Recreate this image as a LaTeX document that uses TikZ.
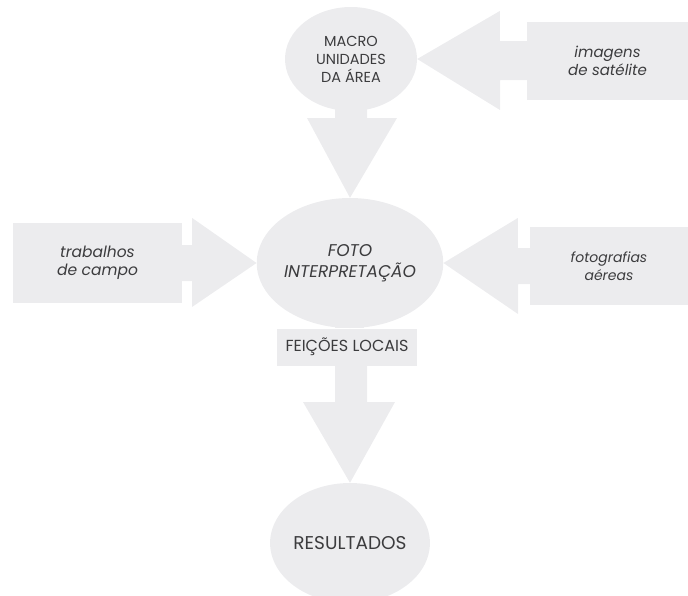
\documentclass[tikz,border=0pt]{standalone}
\usepackage{fontspec}
\setmainfont{Poppins}
\usetikzlibrary{shapes.geometric,backgrounds,calc}
\definecolor{fillc}{RGB}{236,236,238}
\definecolor{txt}{RGB}{60,60,62}
\tikzset{
  blob/.style={ellipse, fill=fillc, inner sep=0pt, text=txt, align=center, font=\fontsize{14.5}{18}\selectfont},
  srcbox/.style={rectangle, fill=fillc, inner sep=0pt, text=txt, align=center, font=\fontsize{15}{18}\selectfont\itshape},
  fat/.style={fill=fillc},
}
\begin{document}
\begin{tikzpicture}[x=1pt,y=-1pt]
\useasboundingbox (0,0) rectangle (688,595);
% nodes
\node[blob, minimum width=132pt, minimum height=104pt] (macro) at (351,59) {MACRO\\UNIDADES\\DA ÁREA};
\node[srcbox, minimum width=161pt, minimum height=78pt] (sat) at (607.5,61) {imagens\\de satélite};
\node[blob, minimum width=154pt, minimum height=130pt, font=\fontsize{17}{21}\selectfont\itshape] (foto) at (350,263) {FOTO\\INTERPRETAÇÃO};
\node[srcbox, minimum width=169pt, minimum height=80pt, font=\fontsize{15.5}{18.5}\selectfont\itshape] (campo) at (97.5,263) {trabalhos\\de campo};
\node[srcbox, minimum width=158pt, minimum height=78pt, font=\fontsize{14}{17.5}\selectfont\itshape] (aereas) at (609,266) {fotografias\\aéreas};
\node[rectangle, fill=fillc, minimum width=140pt, minimum height=37pt, text=txt, font=\fontsize{16}{18}\selectfont] (feicoes) at (347,347) {FEIÇÕES LOCAIS};
\node[blob, minimum width=154pt, minimum height=120pt, font=\fontsize{18.5}{21}\selectfont] (res) at (350,543) {RESULTADOS};
% fat arrows behind the nodes
\begin{pgfonlayer}{background}
% satellite -> macro
\fill[fat] (sat.west) ++(0,-20) -- ++(-27,0) -- ++(0,-30) -- (macro.east) -- (500,110) -- ++(0,-30) -- ++(27,0) -- cycle;
% macro -> foto
\fill[fat] (335,100) -- (367,100) -- (367,118) -- (397,118) -- (foto.north) -- (307,118) -- (335,118) -- cycle;
% campo -> foto
\fill[fat] (campo.east) ++(0,-18) -- ++(10,0) -- ++(0,-27) -- (foto.west) -- (192,307) -- ++(0,-26) -- ++(-10,0) -- cycle;
% aereas -> foto
\fill[fat] (aereas.west) ++(0,-18) -- ++(-12,0) -- ++(0,-30) -- (foto.east) -- (518,314) -- ++(0,-30) -- ++(12,0) -- cycle;
% foto -> feicoes -> res
\fill[fat] (foto.south) ++(-15,-10) rectangle ($(feicoes.north)+(17,0)$);
\fill[fat] (335,364) -- (367,364) -- (367,402) -- (395,402) -- (res.north) -- (303,402) -- (335,402) -- cycle;
\end{pgfonlayer}
\end{tikzpicture}
\end{document}
